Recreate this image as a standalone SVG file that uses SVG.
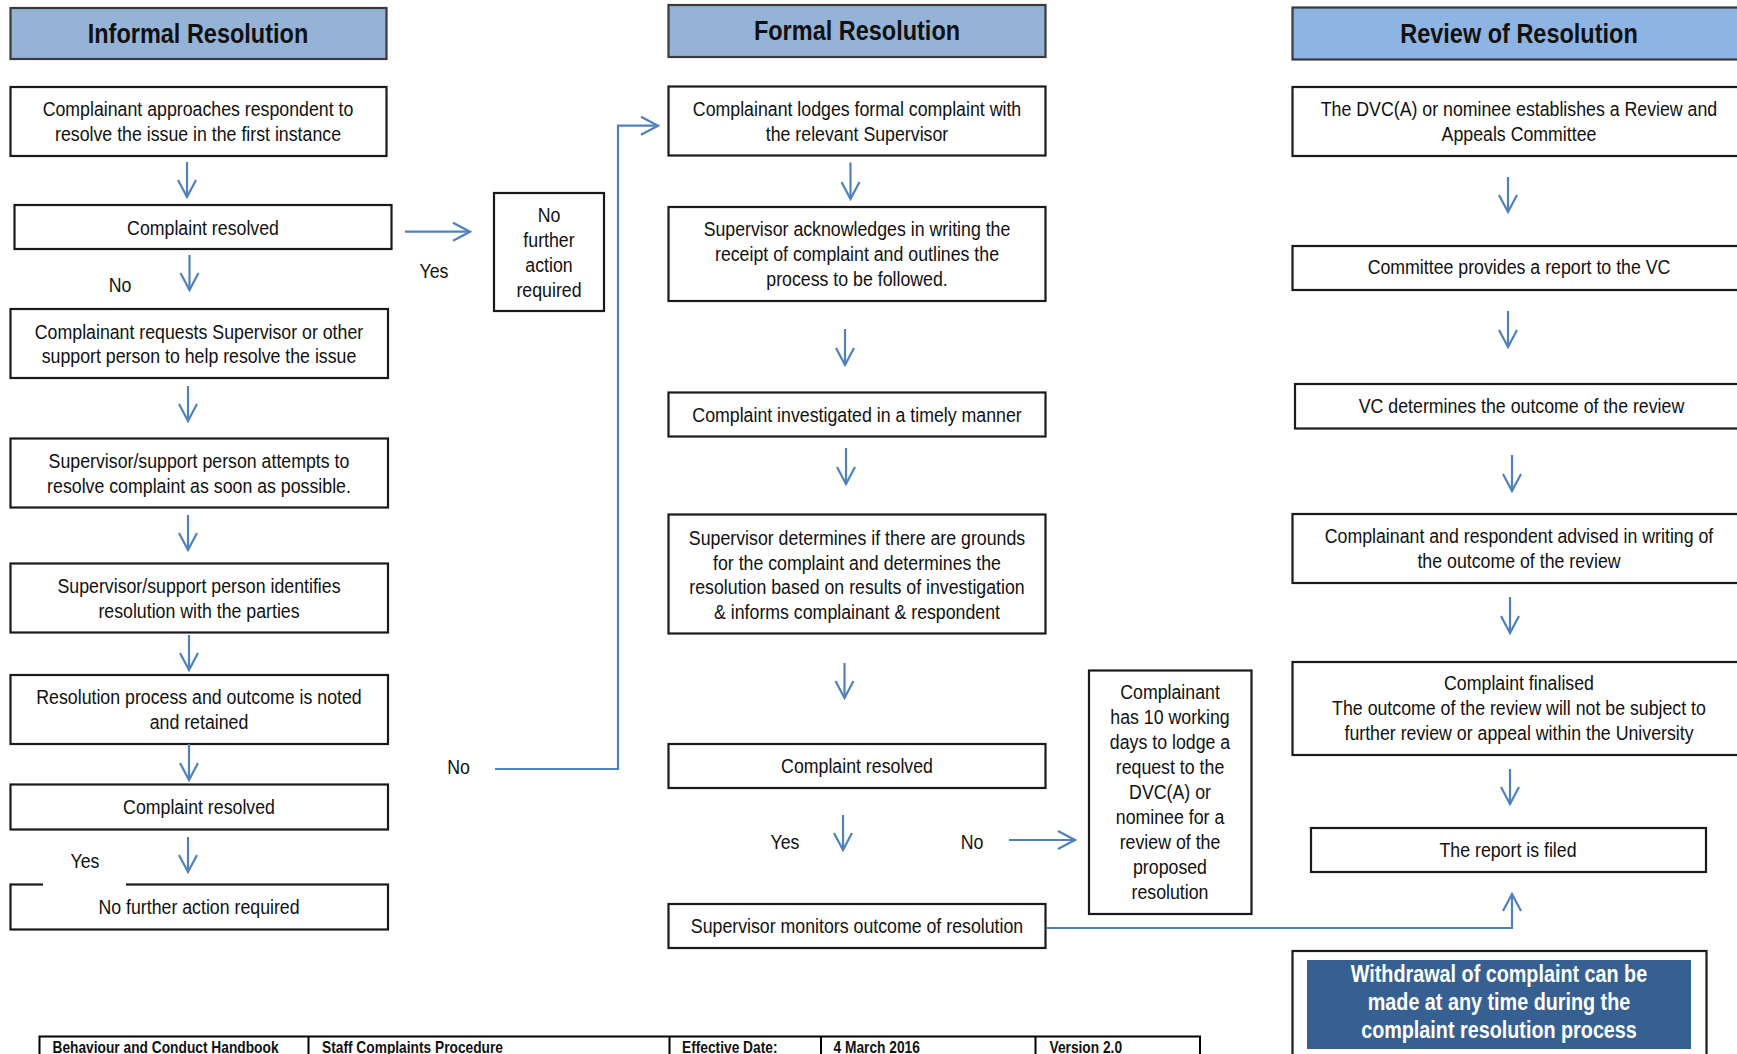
<svg xmlns="http://www.w3.org/2000/svg" width="1737" height="1054" viewBox="0 0 1737 1054">
<defs>
<marker id="ah" viewBox="-19 -11 21 22" refX="0" refY="0" markerWidth="21" markerHeight="22" markerUnits="userSpaceOnUse" orient="auto">
<path d="M-17,-9 L0,0 L-17,9" fill="none" stroke="#4F81BD" stroke-width="2.2"/>
</marker>
<style>
text{font-family:"Liberation Sans",Arial,sans-serif;fill:#111;}
.t{font-size:21px;text-anchor:middle;}
.h{font-size:27px;font-weight:bold;text-anchor:middle;}
.box{fill:#fff;stroke:#1a1a1a;stroke-width:2.2;}
.hdr{fill:#95B3D7;stroke:#3a3a3a;stroke-width:2.2;}
.hdr2{fill:#8DB4E2;stroke:#3a3a3a;stroke-width:2.2;}
.c{fill:none;stroke:#4F81BD;stroke-width:2.2;}
.ft{font-size:16px;font-weight:bold;}
.wd{font-size:23px;font-weight:bold;text-anchor:middle;fill:#fff;}
</style>
</defs>

<g id="hdr-informal"><rect class="hdr" x="10.5" y="8" width="376" height="51"/><g transform="translate(198 0) scale(0.87 1)"><text class="h" x="0" y="43">Informal Resolution</text></g></g>
<g id="hdr-formal"><rect class="hdr" x="668.5" y="5" width="377" height="52"/><g transform="translate(857 0) scale(0.87 1)"><text class="h" x="0" y="40">Formal Resolution</text></g></g>
<g id="hdr-review"><rect class="hdr2" x="1292.5" y="7.5" width="460" height="52"/><g transform="translate(1519 0) scale(0.87 1)"><text class="h" x="0" y="43">Review of Resolution</text></g></g>

<g id="L1"><rect class="box" x="10.5" y="87" width="376" height="69"/><g transform="translate(198 -1) scale(0.845 1)"><text class="t" x="0" y="117">Complainant approaches respondent to</text><text class="t" x="0" y="142">resolve the issue in the first instance</text></g></g>
<g id="L2"><rect class="box" x="14.5" y="205" width="377" height="44"/><g transform="translate(203 -1) scale(0.845 1)"><text class="t" x="0" y="236">Complaint resolved</text></g></g>
<g id="NFA1"><rect class="box" x="494" y="193" width="110" height="118"/><g transform="translate(549 -1) scale(0.845 1)"><text class="t" x="0" y="223">No</text><text class="t" x="0" y="248">further</text><text class="t" x="0" y="273">action</text><text class="t" x="0" y="298">required</text></g></g>
<g id="L3"><rect class="box" x="10.5" y="309" width="377.5" height="69"/><g transform="translate(199 -1) scale(0.845 1)"><text class="t" x="0" y="340">Complainant requests Supervisor or other</text><text class="t" x="0" y="364">support person to help resolve the issue</text></g></g>
<g id="L4"><rect class="box" x="10.5" y="438.5" width="377.5" height="69"/><g transform="translate(199 -1) scale(0.845 1)"><text class="t" x="0" y="469">Supervisor/support person attempts to</text><text class="t" x="0" y="494">resolve complaint as soon as possible.</text></g></g>
<g id="L5"><rect class="box" x="10.5" y="563.5" width="377.5" height="69"/><g transform="translate(199 -1) scale(0.845 1)"><text class="t" x="0" y="594">Supervisor/support person identifies</text><text class="t" x="0" y="619">resolution with the parties</text></g></g>
<g id="L6"><rect class="box" x="10.5" y="675" width="377.5" height="69"/><g transform="translate(199 -1) scale(0.845 1)"><text class="t" x="0" y="705">Resolution process and outcome is noted</text><text class="t" x="0" y="730">and retained</text></g></g>
<g id="L7"><rect class="box" x="10.5" y="784.5" width="377.5" height="45"/><g transform="translate(199 -1) scale(0.845 1)"><text class="t" x="0" y="815">Complaint resolved</text></g></g>
<g id="L8"><rect class="box" x="10.5" y="884.5" width="377.5" height="45"/><rect x="43" y="880" width="83" height="8" fill="#fff"/><g transform="translate(199 -1) scale(0.845 1)"><text class="t" x="0" y="915">No further action required</text></g></g>

<g id="M1"><rect class="box" x="668.5" y="86.5" width="377" height="69"/><g transform="translate(857 -1) scale(0.845 1)"><text class="t" x="0" y="117">Complainant lodges formal complaint with</text><text class="t" x="0" y="142">the relevant Supervisor</text></g></g>
<g id="M2"><rect class="box" x="668.5" y="207" width="377" height="94"/><g transform="translate(857 -1) scale(0.845 1)"><text class="t" x="0" y="237">Supervisor acknowledges in writing the</text><text class="t" x="0" y="262">receipt of complaint and outlines the</text><text class="t" x="0" y="287">process to be followed.</text></g></g>
<g id="M3"><rect class="box" x="668.5" y="392.5" width="377" height="44"/><g transform="translate(857 -1) scale(0.845 1)"><text class="t" x="0" y="423">Complaint investigated in a timely manner</text></g></g>
<g id="M4"><rect class="box" x="668.5" y="514.5" width="377" height="119"/><g transform="translate(857 -1) scale(0.845 1)"><text class="t" x="0" y="546">Supervisor determines if there are grounds</text><text class="t" x="0" y="571">for the complaint and determines the</text><text class="t" x="0" y="595">resolution based on results of investigation</text><text class="t" x="0" y="620">&amp; informs complainant &amp; respondent</text></g></g>
<g id="M5"><rect class="box" x="668.5" y="744" width="377" height="44"/><g transform="translate(857 -1) scale(0.845 1)"><text class="t" x="0" y="774">Complaint resolved</text></g></g>
<g id="M6"><rect class="box" x="668.5" y="904" width="377" height="44"/><g transform="translate(857 -1) scale(0.845 1)"><text class="t" x="0" y="934">Supervisor monitors outcome of resolution</text></g></g>
<g id="M7"><rect class="box" x="1089" y="670.5" width="162.5" height="243.5"/><g transform="translate(1170 -1) scale(0.845 1)"><text class="t" x="0" y="700">Complainant</text><text class="t" x="0" y="725">has 10 working</text><text class="t" x="0" y="750">days to lodge a</text><text class="t" x="0" y="775">request to the</text><text class="t" x="0" y="800">DVC(A) or</text><text class="t" x="0" y="825">nominee for a</text><text class="t" x="0" y="850">review of the</text><text class="t" x="0" y="875">proposed</text><text class="t" x="0" y="900">resolution</text></g></g>

<g id="R1"><rect class="box" x="1292.5" y="87" width="460" height="69"/><g transform="translate(1519 -1) scale(0.845 1)"><text class="t" x="0" y="117">The DVC(A) or nominee establishes a Review and</text><text class="t" x="0" y="142">Appeals Committee</text></g></g>
<g id="R2"><rect class="box" x="1292.5" y="246" width="460" height="44"/><g transform="translate(1519 -1) scale(0.845 1)"><text class="t" x="0" y="275.5">Committee provides a report to the VC</text></g></g>
<g id="R3"><rect class="box" x="1295" y="384" width="460" height="44.5"/><g transform="translate(1521.5 -1) scale(0.845 1)"><text class="t" x="0" y="414">VC determines the outcome of the review</text></g></g>
<g id="R4"><rect class="box" x="1292.5" y="514" width="460" height="69"/><g transform="translate(1519 -1) scale(0.845 1)"><text class="t" x="0" y="544.5">Complainant and respondent advised in writing of</text><text class="t" x="0" y="569.5">the outcome of the review</text></g></g>
<g id="R5"><rect class="box" x="1292.5" y="662" width="460" height="93"/><g transform="translate(1519 -1) scale(0.845 1)"><text class="t" x="0" y="691.5">Complaint finalised</text><text class="t" x="0" y="716.5">The outcome of the review will not be subject to</text><text class="t" x="0" y="741.5">further review or appeal within the University</text></g></g>
<g id="R6"><rect class="box" x="1311" y="828" width="395" height="44"/><g transform="translate(1508 -1) scale(0.845 1)"><text class="t" x="0" y="858">The report is filed</text></g></g>
<g id="withdrawal"><rect class="box" x="1292.5" y="951" width="414" height="130"/><rect x="1307" y="960" width="384" height="89" fill="#376092"/><g transform="translate(1499 0) scale(0.86 1)"><text class="wd" x="0" y="982">Withdrawal of complaint can be</text><text class="wd" x="0" y="1010">made at any time during the</text><text class="wd" x="0" y="1038">complaint resolution process</text></g></g>

<g id="connectors">
<line class="c" x1="187" y1="162" x2="187" y2="197" marker-end="url(#ah)"/>
<line class="c" x1="189.5" y1="255" x2="189.5" y2="290" marker-end="url(#ah)"/>
<line class="c" x1="405" y1="231.7" x2="470" y2="231.7" marker-end="url(#ah)"/>
<line class="c" x1="188" y1="386" x2="188" y2="421" marker-end="url(#ah)"/>
<line class="c" x1="188" y1="515" x2="188" y2="550" marker-end="url(#ah)"/>
<line class="c" x1="189" y1="635" x2="189" y2="670" marker-end="url(#ah)"/>
<line class="c" x1="189" y1="744" x2="189" y2="780" marker-end="url(#ah)"/>
<line class="c" x1="188" y1="837" x2="188" y2="872" marker-end="url(#ah)"/>
<polyline class="c" points="495,769 618,769 618,125.7 658,125.7" marker-end="url(#ah)"/>
<line class="c" x1="850.5" y1="162.5" x2="850.5" y2="199" marker-end="url(#ah)"/>
<line class="c" x1="845" y1="329" x2="845" y2="365" marker-end="url(#ah)"/>
<line class="c" x1="846" y1="448" x2="846" y2="484" marker-end="url(#ah)"/>
<line class="c" x1="844.5" y1="663" x2="844.5" y2="698" marker-end="url(#ah)"/>
<line class="c" x1="843" y1="815" x2="843" y2="850" marker-end="url(#ah)"/>
<line class="c" x1="1009" y1="840" x2="1075" y2="840" marker-end="url(#ah)"/>
<line class="c" x1="1508" y1="177" x2="1508" y2="212" marker-end="url(#ah)"/>
<line class="c" x1="1508" y1="311" x2="1508" y2="347" marker-end="url(#ah)"/>
<line class="c" x1="1512" y1="455" x2="1512" y2="491" marker-end="url(#ah)"/>
<line class="c" x1="1510" y1="597" x2="1510" y2="633" marker-end="url(#ah)"/>
<line class="c" x1="1510" y1="769" x2="1510" y2="804" marker-end="url(#ah)"/>
<polyline class="c" points="1046,928 1512,928 1512,894" marker-end="url(#ah)"/>
</g>

<g id="labels">
<g transform="translate(434 -1) scale(0.845 1)"><text class="t" x="0" y="279">Yes</text></g>
<g transform="translate(120 -1) scale(0.845 1)"><text class="t" x="0" y="293">No</text></g>
<g transform="translate(85 -1) scale(0.845 1)"><text class="t" x="0" y="869">Yes</text></g>
<g transform="translate(458.5 -1) scale(0.845 1)"><text class="t" x="0" y="775">No</text></g>
<g transform="translate(785 -1) scale(0.845 1)"><text class="t" x="0" y="850">Yes</text></g>
<g transform="translate(972 -1) scale(0.845 1)"><text class="t" x="0" y="850">No</text></g>
</g>

<g id="footer">
<rect x="39.5" y="1036.5" width="1160.5" height="40" fill="#fff" stroke="#000" stroke-width="2"/>
<line x1="308.5" y1="1036.5" x2="308.5" y2="1080" stroke="#000" stroke-width="2"/>
<line x1="669.5" y1="1036.5" x2="669.5" y2="1080" stroke="#000" stroke-width="2"/>
<line x1="821" y1="1036.5" x2="821" y2="1080" stroke="#000" stroke-width="2"/>
<line x1="1035.5" y1="1036.5" x2="1035.5" y2="1080" stroke="#000" stroke-width="2"/>
<g transform="translate(52.5 0) scale(0.86 1)"><text class="ft" x="0" y="1053.5">Behaviour and Conduct Handbook</text></g>
<g transform="translate(322 0) scale(0.86 1)"><text class="ft" x="0" y="1053.5">Staff Complaints Procedure</text></g>
<g transform="translate(682 0) scale(0.86 1)"><text class="ft" x="0" y="1053.5">Effective Date:</text></g>
<g transform="translate(833.5 0) scale(0.86 1)"><text class="ft" x="0" y="1053.5">4 March 2016</text></g>
<g transform="translate(1049.5 0) scale(0.86 1)"><text class="ft" x="0" y="1053.5">Version 2.0</text></g>
</g>
</svg>
